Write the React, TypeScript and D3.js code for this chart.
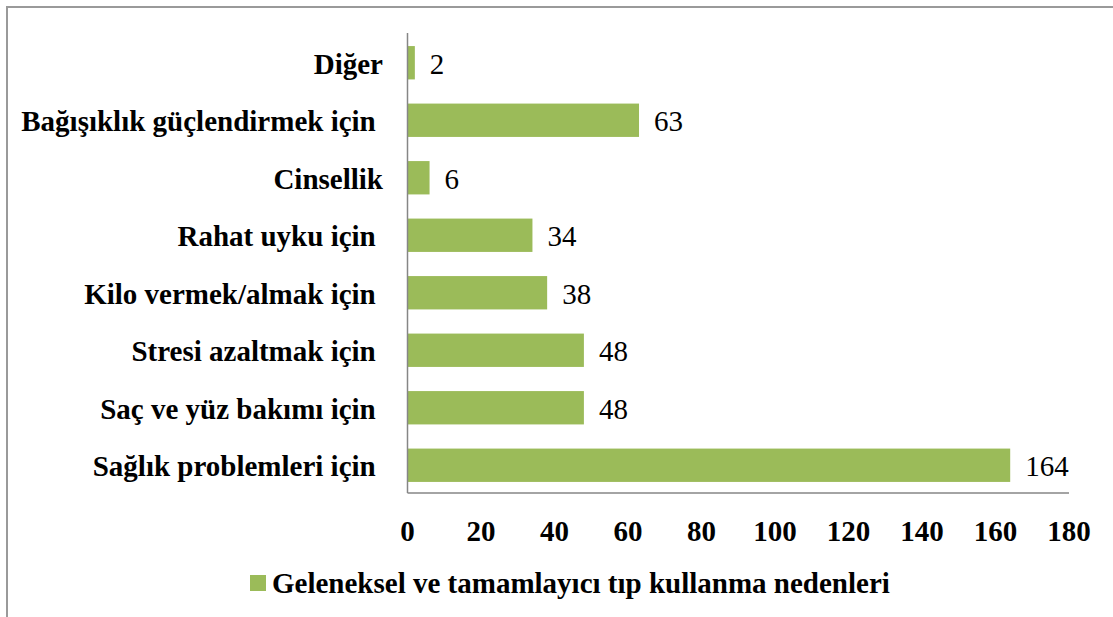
import React from 'react';
import * as d3 from 'd3';

const categories = [
  'Diğer',
  'Bağışıklık güçlendirmek için ',
  'Cinsellik',
  'Rahat uyku için ',
  'Kilo vermek/almak için ',
  'Stresi azaltmak için ',
  'Saç ve yüz bakımı için ',
  'Sağlık problemleri için ',
];
const values = [2, 63, 6, 34, 38, 48, 48, 164];
const xTicks = [0, 20, 40, 60, 80, 100, 120, 140, 160, 180];
const seriesName = 'Geleneksel ve tamamlayıcı tıp kullanma nedenleri';

const App = () => {
  const width = 1113;
  const height = 617;
  const green = '#9BBB59';
  const axisColor = '#868686';
  const font = '"Liberation Serif", "Times New Roman", serif';

  const x = d3.scaleLinear().domain([0, 180]).range([407.5, 1069]);
  const y = d3.scaleBand()
    .domain(categories)
    .range([34, 494])
    .paddingInner(0.42)
    .paddingOuter(0.21);

  return (
    <svg
      width={width}
      height={height}
      style={{ position: 'absolute', left: 0, top: 0, background: '#fff' }}
      fontFamily={font}
    >
      {/* chart frame, runs off the right and bottom edges */}
      <rect x={7} y={7} width={1130} height={640} fill="none" stroke="#9a9a9a" strokeWidth={2} />

      {categories.map((c, i) => (
        <rect
          key={c}
          x={x(0)}
          y={y(c)}
          width={x(values[i]) - x(0)}
          height={y.bandwidth()}
          fill={green}
        />
      ))}

      <line x1={x(0)} x2={x(0)} y1={33} y2={493} stroke={axisColor} strokeWidth={1.5} />
      <line x1={x(0)} x2={x(180)} y1={493} y2={493} stroke={axisColor} strokeWidth={1.5} />

      {categories.map((c) => (
        <text
          key={c}
          x={383}
          y={(y(c) as number) + y.bandwidth() / 2}
          dy="0.38em"
          textAnchor="end"
          fontSize={29}
          fontWeight="bold"
          style={{ whiteSpace: 'pre' }}
        >
          {c}
        </text>
      ))}

      {categories.map((c, i) => (
        <text
          key={c}
          x={x(values[i]) + 15}
          y={(y(c) as number) + y.bandwidth() / 2}
          dy="0.38em"
          fontSize={29}
        >
          {values[i]}
        </text>
      ))}

      {xTicks.map((t) => (
        <text key={t} x={x(t)} y={541} textAnchor="middle" fontSize={29} fontWeight="bold">
          {t}
        </text>
      ))}

      <rect x={250} y={575} width={16} height={16} fill={green} />
      <text x={272} y={593} fontSize={29} fontWeight="bold">
        {seriesName}
      </text>
    </svg>
  );
};

export default App;
